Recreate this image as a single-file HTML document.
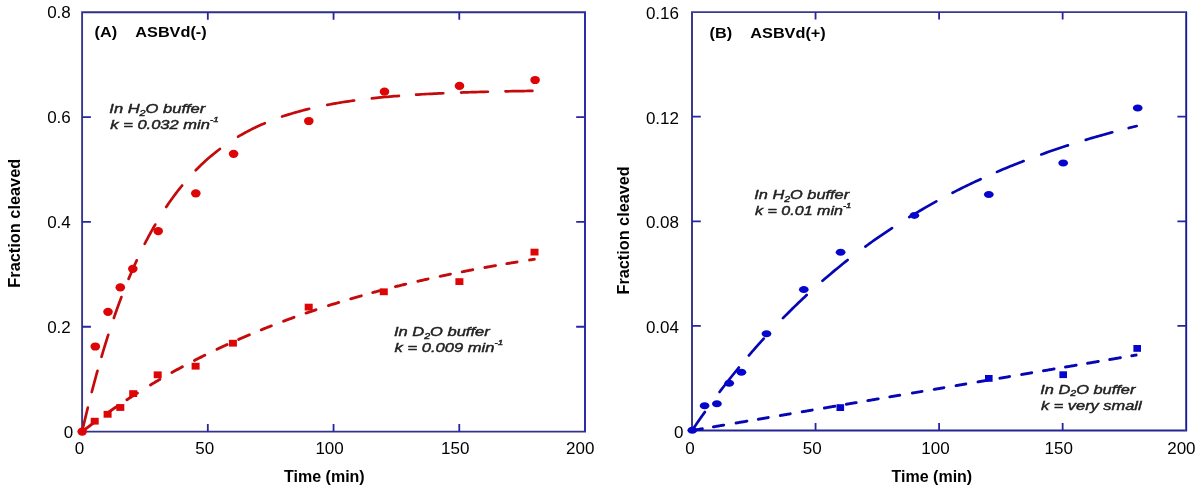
<!DOCTYPE html>
<html><head><meta charset="utf-8"><style>
html,body{margin:0;padding:0;background:#fff;width:1200px;height:489px;overflow:hidden;font-family:"Liberation Sans",sans-serif;}
svg{display:block;will-change:transform}
</style></head><body>
<svg width="1200" height="489" viewBox="0 0 1200 489"><path d="M82.1 11.25V432.55" fill="none" stroke="#36368e" stroke-width="1.9"/>
<path d="M83.05 12.2H584.05" fill="none" stroke="#2e2e88" stroke-width="1.9"/>
<path d="M83.05 431.6H584.05" fill="none" stroke="#33338c" stroke-width="1.9"/>
<path d="M585.0 11.25V432.55" fill="none" stroke="#2222a6" stroke-width="1.9"/>
<path d="M207.82 12.2V19.70M333.55 12.2V19.70M459.27 12.2V19.70" stroke="#2626a0" stroke-width="1.8" fill="none"/>
<path d="M207.82 431.6V424.10M333.55 431.6V424.10M459.27 431.6V424.10" stroke="#2626a0" stroke-width="1.8" fill="none"/>
<path d="M82.1 326.75H90.90M82.1 221.90H90.90M82.1 117.05H90.90" stroke="#2626a0" stroke-width="1.8" fill="none"/>
<path d="M585.0 326.75H576.20M585.0 221.90H576.20M585.0 117.05H576.20" stroke="#2626a0" stroke-width="1.8" fill="none"/>
<path d="M692.0 11.15V431.45" fill="none" stroke="#30308e" stroke-width="1.9"/>
<path d="M692.95 12.1H1185.25" fill="none" stroke="#3a3a8c" stroke-width="1.9"/>
<path d="M692.95 430.5H1185.25" fill="none" stroke="#242494" stroke-width="1.9"/>
<path d="M1186.2 11.15V431.45" fill="none" stroke="#1a1a94" stroke-width="1.9"/>
<path d="M815.55 12.1V19.60M939.10 12.1V19.60M1062.65 12.1V19.60" stroke="#2626a0" stroke-width="1.8" fill="none"/>
<path d="M815.55 430.5V423.00M939.10 430.5V423.00M1062.65 430.5V423.00" stroke="#2626a0" stroke-width="1.8" fill="none"/>
<path d="M692.0 325.90H700.80M692.0 221.30H700.80M692.0 116.70H700.80" stroke="#2626a0" stroke-width="1.8" fill="none"/>
<path d="M1186.2 325.90H1177.40M1186.2 221.30H1177.40M1186.2 116.70H1177.40" stroke="#2626a0" stroke-width="1.8" fill="none"/>
<path d="M82.65 429.23 L82.98 427.79 L83.36 426.17 L83.73 424.56 L84.11 422.96 L84.49 421.37 L84.87 419.78 L85.24 418.20 L85.62 416.62 L86.00 415.06 L86.37 413.50 L86.75 411.95 L87.13 410.41 L87.51 408.87 L87.84 407.54M91.78 392.00 L92.16 390.53 L92.66 388.61 L93.16 386.71 L93.67 384.81 L94.17 382.93 L94.67 381.06 L95.18 379.20 L95.68 377.36 L96.18 375.52 L96.68 373.70 L97.19 371.89 L97.50 370.76M101.51 356.79 L101.96 355.25 L102.47 353.55 L102.97 351.87 L103.47 350.20 L103.98 348.54 L104.48 346.89 L104.98 345.25 L105.48 343.62 L105.99 342.00 L106.49 340.39 L106.99 338.79 L107.50 337.20 L108.00 335.62 L108.26 334.80M113.86 317.96 L114.41 316.36 L115.04 314.55 L115.67 312.76 L116.30 310.99 L116.93 309.22 L117.55 307.48 L118.18 305.74 L118.81 304.02 L119.44 302.31 L120.07 300.62 L120.70 298.94 L121.33 297.27 L121.41 297.05M128.62 278.88 L129.25 277.38 L129.88 275.88 L130.50 274.40 L131.13 272.93 L131.76 271.47 L132.39 270.02 L133.02 268.59 L133.65 267.16 L134.28 265.75 L134.90 264.35 L135.53 262.96 L136.16 261.58 L136.74 260.32M144.70 243.89 L145.47 242.39 L146.35 240.70 L147.23 239.01 L148.11 237.35 L148.99 235.71 L149.87 234.08 L150.75 232.48 L151.63 230.89 L152.51 229.32 L153.39 227.76 L154.27 226.23 L155.15 224.71 L155.24 224.54M166.21 206.98 L167.47 205.13 L168.72 203.30 L169.98 201.49 L171.24 199.72 L172.50 197.98 L173.75 196.26 L175.01 194.57 L176.27 192.91 L177.53 191.27 L178.78 189.66 L180.04 188.07 L181.30 186.51 L182.10 185.53M195.77 170.25 L197.77 168.22 L199.78 166.24 L201.79 164.31 L203.80 162.42 L205.81 160.59 L207.82 158.80 L209.84 157.06 L211.85 155.36 L213.86 153.70 L215.87 152.08 L217.88 150.51 L219.89 148.97 L219.92 148.95M238.14 136.71 L240.26 135.46 L242.40 134.23 L244.54 133.04 L246.67 131.88 L248.81 130.75 L250.95 129.65 L253.09 128.58 L255.22 127.54 L257.36 126.53 L259.50 125.54 L261.64 124.58 L263.77 123.65 L264.79 123.22M282.14 116.59 L284.39 115.83 L286.65 115.10 L288.92 114.38 L291.18 113.68 L293.44 113.00 L295.71 112.34 L297.97 111.70 L300.23 111.08 L302.50 110.48 L304.76 109.89 L307.02 109.32 L309.13 108.80M327.28 104.88 L329.40 104.48 L331.54 104.08 L333.68 103.70 L335.81 103.33 L337.95 102.96 L340.09 102.61 L342.23 102.27 L344.36 101.93 L346.50 101.61 L348.64 101.29 L350.77 100.98 L352.91 100.68 L354.11 100.51M371.89 98.34 L374.03 98.11 L376.30 97.88 L378.56 97.65 L380.82 97.42 L383.09 97.21 L385.35 97.00 L387.61 96.79 L389.87 96.59 L392.14 96.40 L394.40 96.21 L396.66 96.03 L398.90 95.85M416.10 94.66 L418.29 94.53 L420.55 94.39 L422.81 94.26 L425.08 94.14 L427.34 94.01 L429.60 93.89 L431.87 93.78 L434.13 93.66 L436.39 93.55 L438.66 93.45 L440.92 93.34 L443.18 93.24 L443.30 93.24M461.10 92.54 L463.17 92.47 L465.31 92.39 L467.45 92.32 L469.58 92.26 L471.72 92.19 L473.86 92.13 L476.00 92.06 L478.13 92.00 L480.27 91.94 L482.41 91.88 L484.55 91.83 L486.68 91.77 L487.90 91.74M505.50 91.35 L507.68 91.31 L509.94 91.27 L512.21 91.22 L514.47 91.18 L516.73 91.14 L518.99 91.10 L521.26 91.07 L523.52 91.03 L525.78 91.00 L528.05 90.96 L530.31 90.93 L532.40 90.90" fill="none" stroke="#c40a0a" stroke-width="2.7" stroke-linecap="round" stroke-linejoin="round"/>
<path d="M83.37 430.62 L84.24 429.96 L85.12 429.29 L86.00 428.62 L86.88 427.96 L87.76 427.29 L88.64 426.63 L89.52 425.97 L90.40 425.31 L91.28 424.65 L92.16 424.00 L93.04 423.35 L93.81 422.77M106.70 413.48 L107.50 412.92 L108.38 412.31 L109.26 411.69 L110.14 411.08 L111.02 410.47 L111.90 409.86 L112.78 409.25 L113.66 408.64 L114.54 408.04 L115.42 407.44 L116.30 406.84 L117.18 406.24 L118.06 405.64 L118.39 405.42M126.92 399.74 L127.74 399.21 L128.62 398.63 L129.50 398.06 L130.38 397.49 L131.26 396.92 L132.14 396.35 L133.02 395.79 L133.90 395.23 L134.78 394.66 L135.66 394.10 L136.54 393.55 L137.37 393.02M150.54 384.90 L151.25 384.47 L152.00 384.02 L152.76 383.57 L153.51 383.12 L154.27 382.67 L155.02 382.22 L155.77 381.78 L156.53 381.33 L157.28 380.89 L158.04 380.45 L158.79 380.00 L159.55 379.56 L159.85 379.39M171.96 372.48 L172.75 372.04 L173.63 371.56 L174.51 371.07 L175.39 370.58 L176.27 370.10 L177.15 369.62 L178.03 369.14 L178.91 368.66 L179.79 368.18 L180.67 367.70 L181.55 367.23 L182.33 366.81M194.48 360.42 L195.25 360.02 L196.13 359.57 L197.01 359.12 L197.89 358.67 L198.77 358.22 L199.65 357.78 L200.53 357.34 L201.41 356.89 L202.29 356.45 L203.17 356.01 L204.05 355.57 L204.81 355.20M216.99 349.29 L217.63 348.98 L218.39 348.63 L219.14 348.27 L219.89 347.92 L220.65 347.56 L221.40 347.21 L222.16 346.86 L222.91 346.51 L223.67 346.16 L224.42 345.81 L225.18 345.46 L225.93 345.11 L226.68 344.77 L227.00 344.62M238.71 339.37 L239.51 339.02 L240.39 338.63 L241.27 338.25 L242.15 337.87 L243.03 337.49 L243.91 337.11 L244.79 336.73 L245.67 336.35 L246.55 335.97 L247.43 335.60 L248.31 335.22 L249.19 334.85 L249.29 334.81M261.32 329.83 L262.01 329.55 L262.77 329.24 L263.52 328.94 L264.28 328.64 L265.03 328.34 L265.78 328.03 L266.54 327.73 L267.29 327.43 L268.05 327.14 L268.80 326.84 L269.56 326.54 L270.31 326.24 L271.06 325.95 L271.28 325.87M283.63 321.14 L284.39 320.86 L285.27 320.53 L286.15 320.20 L287.03 319.88 L287.91 319.55 L288.79 319.23 L289.67 318.91 L290.55 318.59 L291.43 318.27 L292.31 317.95 L293.19 317.63 L293.96 317.35M306.04 313.09 L306.77 312.84 L307.52 312.58 L308.28 312.32 L309.03 312.06 L309.79 311.80 L310.54 311.55 L311.30 311.29 L312.05 311.04 L312.81 310.78 L313.56 310.53 L314.31 310.28 L315.07 310.02 L315.82 309.77 L315.96 309.73M328.45 305.66 L329.15 305.43 L329.90 305.19 L330.66 304.96 L331.41 304.72 L332.17 304.48 L332.92 304.24 L333.68 304.01 L334.43 303.77 L335.18 303.54 L335.94 303.30 L336.69 303.07 L337.45 302.84 L338.20 302.60 L338.65 302.47M350.76 298.83 L351.53 298.60 L352.41 298.34 L353.29 298.09 L354.17 297.83 L355.05 297.57 L355.93 297.32 L356.81 297.07 L357.69 296.81 L358.57 296.56 L359.45 296.31 L360.33 296.06 L361.21 295.81 L361.24 295.80M372.76 292.60 L373.40 292.43 L374.16 292.22 L374.91 292.02 L375.67 291.82 L376.42 291.61 L377.18 291.41 L377.93 291.21 L378.69 291.01 L379.44 290.81 L380.19 290.61 L380.95 290.41 L381.70 290.21 L381.94 290.15M395.47 286.68 L396.29 286.47 L397.17 286.25 L398.05 286.03 L398.93 285.81 L399.81 285.60 L400.69 285.38 L401.57 285.16 L402.45 284.95 L403.33 284.73 L404.21 284.52 L405.09 284.31 L405.73 284.15M417.87 281.28 L418.67 281.10 L419.55 280.89 L420.43 280.69 L421.31 280.49 L422.19 280.29 L423.07 280.09 L423.95 279.89 L424.83 279.69 L425.71 279.49 L426.59 279.30 L427.47 279.10 L428.13 278.95M440.18 276.32 L440.92 276.16 L441.67 276.00 L442.43 275.84 L443.18 275.68 L443.94 275.52 L444.69 275.37 L445.45 275.21 L446.20 275.05 L446.95 274.89 L447.71 274.73 L448.46 274.58 L449.22 274.42 L449.97 274.27 L450.42 274.17M462.18 271.80 L463.05 271.63 L463.93 271.46 L464.81 271.29 L465.69 271.11 L466.57 270.94 L467.45 270.77 L468.33 270.60 L469.21 270.43 L470.09 270.26 L470.97 270.10 L471.85 269.93 L472.72 269.76M484.88 267.50 L485.68 267.35 L486.56 267.20 L487.44 267.04 L488.32 266.88 L489.20 266.72 L490.08 266.56 L490.96 266.41 L491.84 266.25 L492.72 266.09 L493.60 265.94 L494.48 265.78 L495.36 265.63 L495.52 265.60M506.88 263.65 L507.68 263.52 L508.56 263.37 L509.44 263.22 L510.32 263.07 L511.20 262.93 L512.08 262.78 L512.96 262.64 L513.84 262.49 L514.72 262.35 L515.60 262.21 L516.48 262.06 L517.11 261.96M529.59 259.98 L529.93 259.93 L530.31 259.87 L530.69 259.81 L531.06 259.75 L531.44 259.69 L531.82 259.64 L532.20 259.58 L532.57 259.52 L532.95 259.46 L533.33 259.41 L533.70 259.35 L534.08 259.29 L534.31 259.25" fill="none" stroke="#c40a0a" stroke-width="2.9" stroke-linecap="round" stroke-linejoin="round"/>
<path d="M692.52 429.74 L693.48 428.32 L694.47 426.87 L695.46 425.43 L696.45 423.99 L697.44 422.56 L698.42 421.14 L699.41 419.72 L700.40 418.31 L701.39 416.90 L702.38 415.50 L703.37 414.10 L704.36 412.71 L704.86 412.00M719.56 392.00 L721.16 389.90 L722.76 387.80 L724.37 385.71 L725.98 383.64 L727.58 381.58 L729.19 379.53 L730.79 377.50 L732.40 375.48 L734.01 373.47 L735.61 371.48 L737.22 369.50 L738.80 367.55M748.91 355.45 L750.07 354.10 L751.30 352.66 L752.54 351.23 L753.77 349.81 L755.01 348.39 L756.25 346.98 L757.48 345.58 L758.72 344.18 L759.95 342.79 L761.19 341.41 L762.42 340.04 L763.66 338.67 L763.76 338.56M782.97 318.15 L784.91 316.17 L786.89 314.18 L788.86 312.20 L790.84 310.24 L792.82 308.29 L794.79 306.35 L796.77 304.44 L798.75 302.53 L800.72 300.65 L802.70 298.78 L804.68 296.92 L806.65 295.08 L806.69 295.04M822.53 280.80 L824.57 279.04 L826.67 277.23 L828.77 275.44 L830.87 273.66 L832.97 271.90 L835.07 270.16 L837.17 268.43 L839.27 266.71 L841.37 265.01 L843.47 263.32 L845.57 261.65 L847.63 260.02M865.39 246.55 L867.56 244.97 L869.79 243.36 L872.01 241.77 L874.24 240.19 L876.46 238.63 L878.68 237.08 L880.91 235.54 L883.13 234.02 L885.36 232.51 L887.58 231.02 L889.80 229.54 L891.98 228.10M909.24 217.15 L911.42 215.81 L913.65 214.47 L915.87 213.13 L918.10 211.81 L920.32 210.50 L922.54 209.21 L924.77 207.92 L926.99 206.65 L929.22 205.38 L931.44 204.13 L933.66 202.89 L935.89 201.66 L936.34 201.42M952.58 192.78 L954.91 191.59 L957.26 190.40 L959.61 189.22 L961.96 188.05 L964.30 186.89 L966.65 185.75 L969.00 184.61 L971.35 183.49 L973.69 182.38 L976.04 181.27 L978.39 180.18 L980.60 179.16M997.01 171.87 L999.15 170.96 L1001.37 170.01 L1003.59 169.08 L1005.82 168.15 L1008.04 167.23 L1010.26 166.33 L1012.49 165.42 L1014.71 164.53 L1016.94 163.64 L1019.16 162.77 L1021.38 161.90 L1023.57 161.05M1041.34 154.44 L1043.50 153.66 L1045.72 152.87 L1047.95 152.09 L1050.17 151.32 L1052.40 150.55 L1054.62 149.79 L1056.84 149.04 L1059.07 148.29 L1061.29 147.55 L1063.51 146.82 L1065.74 146.09 L1067.95 145.38M1085.75 139.84 L1087.85 139.21 L1090.08 138.55 L1092.30 137.90 L1094.53 137.25 L1096.75 136.61 L1098.97 135.98 L1101.20 135.35 L1103.42 134.72 L1105.65 134.10 L1107.87 133.49 L1110.09 132.88 L1112.24 132.30M1128.67 128.02 L1129.24 127.87 L1129.86 127.72 L1130.48 127.56 L1131.10 127.41 L1131.71 127.26 L1132.33 127.10 L1132.95 126.95 L1133.57 126.80 L1134.19 126.64 L1134.80 126.49 L1135.42 126.34 L1136.04 126.19 L1136.63 126.04" fill="none" stroke="#0606b4" stroke-width="2.7" stroke-linecap="round" stroke-linejoin="round"/>
<path d="M691.98 430.50 L692.74 430.37 L693.61 430.23 L694.47 430.08 L695.34 429.93 L696.20 429.79 L697.07 429.64 L697.93 429.49 L698.80 429.35 L699.66 429.20 L700.52 429.05 L701.39 428.90 L702.25 428.76 L702.32 428.75M713.38 426.87 L714.24 426.72 L715.10 426.57 L715.97 426.43 L716.83 426.28 L717.70 426.13 L718.56 425.99 L719.43 425.84 L720.29 425.69 L721.16 425.55 L722.02 425.40 L722.89 425.25 L723.72 425.11M736.08 423.01 L736.85 422.88 L737.71 422.73 L738.58 422.59 L739.44 422.44 L740.31 422.29 L741.17 422.14 L742.04 422.00 L742.90 421.85 L743.77 421.70 L744.63 421.56 L745.50 421.41 L746.36 421.26 L746.92 421.17M758.38 419.22 L759.09 419.10 L759.83 418.98 L760.57 418.85 L761.31 418.72 L762.05 418.60 L762.79 418.47 L763.54 418.35 L764.28 418.22 L765.02 418.09 L765.76 417.97 L766.50 417.84 L767.24 417.72 L767.98 417.59 L768.22 417.55M780.38 415.48 L781.08 415.36 L781.82 415.24 L782.56 415.11 L783.30 414.99 L784.04 414.86 L784.79 414.73 L785.53 414.61 L786.27 414.48 L787.01 414.36 L787.75 414.23 L788.49 414.10 L789.23 413.98 L789.98 413.85 L790.22 413.81M802.18 411.78 L802.95 411.65 L803.81 411.50 L804.68 411.35 L805.54 411.21 L806.41 411.06 L807.27 410.91 L808.14 410.77 L809.00 410.62 L809.87 410.47 L810.73 410.33 L811.60 410.18 L812.22 410.07M824.38 408.01 L825.19 407.87 L826.05 407.72 L826.92 407.58 L827.78 407.43 L828.65 407.28 L829.51 407.14 L830.38 406.99 L831.24 406.84 L832.11 406.69 L832.97 406.55 L833.84 406.40 L834.70 406.25 L834.92 406.22M846.38 404.27 L847.06 404.15 L847.80 404.03 L848.54 403.90 L849.28 403.78 L850.02 403.65 L850.76 403.52 L851.50 403.40 L852.24 403.27 L852.99 403.15 L853.73 403.02 L854.47 402.89 L855.21 402.77 L855.95 402.64 L856.22 402.60M867.78 400.63 L868.55 400.50 L869.42 400.35 L870.28 400.21 L871.15 400.06 L872.01 399.91 L872.88 399.77 L873.74 399.62 L874.61 399.47 L875.47 399.33 L876.34 399.18 L877.20 399.03 L878.07 398.89 L878.22 398.86M889.78 396.89 L890.42 396.79 L891.16 396.66 L891.90 396.53 L892.65 396.41 L893.39 396.28 L894.13 396.16 L894.87 396.03 L895.61 395.90 L896.35 395.78 L897.09 395.65 L897.83 395.53 L898.58 395.40 L899.32 395.27 L899.72 395.21M912.38 393.05 L913.03 392.94 L913.77 392.82 L914.51 392.69 L915.25 392.57 L916.00 392.44 L916.74 392.31 L917.48 392.19 L918.22 392.06 L918.96 391.94 L919.70 391.81 L920.44 391.68 L921.19 391.56 L921.93 391.43 L922.02 391.42M934.18 389.35 L934.90 389.23 L935.64 389.10 L936.38 388.98 L937.12 388.85 L937.86 388.72 L938.61 388.60 L939.35 388.47 L940.09 388.35 L940.83 388.22 L941.57 388.09 L942.31 387.97 L943.05 387.84 L943.79 387.72 L943.92 387.70M956.08 385.63 L956.77 385.51 L957.51 385.39 L958.25 385.26 L958.99 385.13 L959.73 385.01 L960.47 384.88 L961.22 384.76 L961.96 384.63 L962.70 384.51 L963.44 384.38 L964.18 384.25 L964.92 384.13 L965.66 384.00 L965.82 383.98M977.98 381.91 L978.64 381.80 L979.38 381.67 L980.12 381.55 L980.86 381.42 L981.60 381.29 L982.34 381.17 L983.08 381.04 L983.83 380.92 L984.57 380.79 L985.31 380.66 L986.05 380.54 L986.79 380.41 L987.53 380.29 L987.72 380.25M999.88 378.19 L1000.50 378.08 L1001.25 377.96 L1001.99 377.83 L1002.73 377.70 L1003.47 377.58 L1004.21 377.45 L1004.95 377.33 L1005.69 377.20 L1006.43 377.07 L1007.18 376.95 L1007.92 376.82 L1008.66 376.70 L1009.40 376.57 L1009.52 376.55M1021.68 374.48 L1022.37 374.37 L1023.11 374.24 L1023.86 374.11 L1024.60 373.99 L1025.34 373.86 L1026.08 373.74 L1026.82 373.61 L1027.56 373.48 L1028.30 373.36 L1029.04 373.23 L1029.79 373.11 L1030.53 372.98 L1031.27 372.85 L1031.72 372.78M1043.48 370.78 L1044.24 370.65 L1045.11 370.50 L1045.97 370.36 L1046.84 370.21 L1047.70 370.06 L1048.57 369.92 L1049.43 369.77 L1050.30 369.62 L1051.16 369.47 L1052.02 369.33 L1052.89 369.18 L1053.75 369.03 L1054.12 368.97M1065.48 367.04 L1066.23 366.91 L1067.10 366.77 L1067.96 366.62 L1068.83 366.47 L1069.69 366.33 L1070.56 366.18 L1071.42 366.03 L1072.29 365.88 L1073.15 365.74 L1074.02 365.59 L1074.88 365.44 L1075.75 365.30 L1076.22 365.22M1087.58 363.29 L1088.35 363.16 L1089.21 363.01 L1090.08 362.86 L1090.94 362.71 L1091.81 362.57 L1092.67 362.42 L1093.54 362.27 L1094.40 362.13 L1095.27 361.98 L1096.13 361.83 L1097.00 361.69 L1097.86 361.54 L1098.32 361.46M1109.68 359.53 L1110.46 359.40 L1111.33 359.25 L1112.19 359.10 L1113.06 358.96 L1113.92 358.81 L1114.79 358.66 L1115.65 358.52 L1116.52 358.37 L1117.38 358.22 L1118.25 358.08 L1119.11 357.93 L1119.98 357.78 L1120.42 357.71M1131.78 355.78 L1132.09 355.72 L1132.46 355.66 L1132.83 355.60 L1133.20 355.54 L1133.57 355.47 L1133.94 355.41 L1134.31 355.35 L1134.68 355.28 L1135.05 355.22 L1135.42 355.16 L1135.79 355.09 L1136.12 355.04" fill="none" stroke="#0606b4" stroke-width="2.9" stroke-linecap="round" stroke-linejoin="round"/>
<rect x="90.70" y="417.80" width="8" height="6.8" fill="#dd0505"/>
<rect x="103.60" y="410.90" width="8" height="6.8" fill="#dd0505"/>
<rect x="116.30" y="404.10" width="8" height="6.8" fill="#dd0505"/>
<rect x="129.20" y="390.20" width="8" height="6.8" fill="#dd0505"/>
<rect x="153.70" y="371.40" width="8" height="6.8" fill="#dd0505"/>
<rect x="191.60" y="362.80" width="8" height="6.8" fill="#dd0505"/>
<rect x="228.90" y="339.80" width="8" height="6.8" fill="#dd0505"/>
<rect x="304.70" y="303.70" width="8" height="6.8" fill="#dd0505"/>
<rect x="379.80" y="288.40" width="8" height="6.8" fill="#dd0505"/>
<rect x="455.40" y="278.20" width="8" height="6.8" fill="#dd0505"/>
<rect x="530.50" y="248.70" width="8" height="6.8" fill="#dd0505"/>
<ellipse cx="82.2" cy="431.6" rx="4.8" ry="4.1" fill="#dd0505"/>
<ellipse cx="95.3" cy="346.5" rx="4.8" ry="4.1" fill="#dd0505"/>
<ellipse cx="108" cy="311.8" rx="4.8" ry="4.1" fill="#dd0505"/>
<ellipse cx="120.3" cy="287.4" rx="4.8" ry="4.1" fill="#dd0505"/>
<ellipse cx="132.8" cy="268.8" rx="4.8" ry="4.1" fill="#dd0505"/>
<ellipse cx="158.2" cy="231.1" rx="4.8" ry="4.1" fill="#dd0505"/>
<ellipse cx="195.8" cy="193.3" rx="4.8" ry="4.1" fill="#dd0505"/>
<ellipse cx="233.6" cy="153.8" rx="4.8" ry="4.1" fill="#dd0505"/>
<ellipse cx="308.8" cy="121" rx="4.8" ry="4.1" fill="#dd0505"/>
<ellipse cx="384.5" cy="91.7" rx="4.8" ry="4.1" fill="#dd0505"/>
<ellipse cx="459.5" cy="85.9" rx="4.8" ry="4.1" fill="#dd0505"/>
<ellipse cx="535.1" cy="80" rx="4.8" ry="4.1" fill="#dd0505"/>
<rect x="836.50" y="404.20" width="7.6" height="6.8" fill="#0505cc"/>
<rect x="985.00" y="375.00" width="7.6" height="6.8" fill="#0505cc"/>
<rect x="1059.40" y="371.30" width="7.6" height="6.8" fill="#0505cc"/>
<rect x="1133.40" y="345.00" width="7.6" height="6.8" fill="#0505cc"/>
<ellipse cx="692.3" cy="430.3" rx="4.9" ry="3.5" fill="#0505cc"/>
<ellipse cx="704.6" cy="405.8" rx="4.9" ry="3.5" fill="#0505cc"/>
<ellipse cx="716.9" cy="403.8" rx="4.9" ry="3.5" fill="#0505cc"/>
<ellipse cx="729.2" cy="383.2" rx="4.9" ry="3.5" fill="#0505cc"/>
<ellipse cx="741.4" cy="372.3" rx="4.9" ry="3.5" fill="#0505cc"/>
<ellipse cx="766.5" cy="333.7" rx="4.9" ry="3.5" fill="#0505cc"/>
<ellipse cx="803.8" cy="289.6" rx="4.9" ry="3.5" fill="#0505cc"/>
<ellipse cx="840.6" cy="252.3" rx="4.9" ry="3.5" fill="#0505cc"/>
<ellipse cx="914.4" cy="215.4" rx="4.9" ry="3.5" fill="#0505cc"/>
<ellipse cx="988.8" cy="194.5" rx="4.9" ry="3.5" fill="#0505cc"/>
<ellipse cx="1063.2" cy="163" rx="4.9" ry="3.5" fill="#0505cc"/>
<ellipse cx="1137.7" cy="108" rx="4.9" ry="3.5" fill="#0505cc"/>
<text x="70.8" y="18.29999999999999" font-family="'Liberation Sans', sans-serif" font-size="17" font-weight="normal" font-style="normal" text-anchor="end" fill="#000" >0.8</text>
<text x="70.8" y="123.15" font-family="'Liberation Sans', sans-serif" font-size="17" font-weight="normal" font-style="normal" text-anchor="end" fill="#000" >0.6</text>
<text x="70.8" y="228.0" font-family="'Liberation Sans', sans-serif" font-size="17" font-weight="normal" font-style="normal" text-anchor="end" fill="#000" >0.4</text>
<text x="70.8" y="332.85" font-family="'Liberation Sans', sans-serif" font-size="17" font-weight="normal" font-style="normal" text-anchor="end" fill="#000" >0.2</text>
<text x="68.55" y="437.70000000000005" font-family="'Liberation Sans', sans-serif" font-size="17" font-weight="normal" font-style="normal" text-anchor="middle" fill="#000" >0</text>
<text x="79.6" y="454.2" font-family="'Liberation Sans', sans-serif" font-size="17" font-weight="normal" font-style="normal" text-anchor="middle" fill="#000" >0</text>
<text x="204.7" y="454.2" font-family="'Liberation Sans', sans-serif" font-size="17" font-weight="normal" font-style="normal" text-anchor="middle" fill="#000" >50</text>
<text x="329.6" y="454.2" font-family="'Liberation Sans', sans-serif" font-size="17" font-weight="normal" font-style="normal" text-anchor="middle" fill="#000" >100</text>
<text x="455.3" y="454.2" font-family="'Liberation Sans', sans-serif" font-size="17" font-weight="normal" font-style="normal" text-anchor="middle" fill="#000" >150</text>
<text x="580.2" y="454.2" font-family="'Liberation Sans', sans-serif" font-size="17" font-weight="normal" font-style="normal" text-anchor="middle" fill="#000" >200</text>
<text x="679.0" y="19.199999999999967" font-family="'Liberation Sans', sans-serif" font-size="17" font-weight="normal" font-style="normal" text-anchor="end" fill="#000" >0.16</text>
<text x="679.0" y="123.79999999999998" font-family="'Liberation Sans', sans-serif" font-size="17" font-weight="normal" font-style="normal" text-anchor="end" fill="#000" >0.12</text>
<text x="679.0" y="228.39999999999998" font-family="'Liberation Sans', sans-serif" font-size="17" font-weight="normal" font-style="normal" text-anchor="end" fill="#000" >0.08</text>
<text x="679.0" y="333.0" font-family="'Liberation Sans', sans-serif" font-size="17" font-weight="normal" font-style="normal" text-anchor="end" fill="#000" >0.04</text>
<text x="678.8" y="437.7" font-family="'Liberation Sans', sans-serif" font-size="17" font-weight="normal" font-style="normal" text-anchor="middle" fill="#000" >0</text>
<text x="690" y="453.6" font-family="'Liberation Sans', sans-serif" font-size="17" font-weight="normal" font-style="normal" text-anchor="middle" fill="#000" >0</text>
<text x="812.2" y="453.6" font-family="'Liberation Sans', sans-serif" font-size="17" font-weight="normal" font-style="normal" text-anchor="middle" fill="#000" >50</text>
<text x="935.5" y="453.6" font-family="'Liberation Sans', sans-serif" font-size="17" font-weight="normal" font-style="normal" text-anchor="middle" fill="#000" >100</text>
<text x="1058.7" y="453.6" font-family="'Liberation Sans', sans-serif" font-size="17" font-weight="normal" font-style="normal" text-anchor="middle" fill="#000" >150</text>
<text x="1181.4" y="453.6" font-family="'Liberation Sans', sans-serif" font-size="17" font-weight="normal" font-style="normal" text-anchor="middle" fill="#000" >200</text>
<text x="0" y="0" font-family="'Liberation Sans', sans-serif" font-size="15.5" font-weight="bold" font-style="normal" text-anchor="start" fill="#000" transform="translate(94.6,36.6) scale(1.05,1)">(A)</text>
<text x="0" y="0" font-family="'Liberation Sans', sans-serif" font-size="15.5" font-weight="bold" font-style="normal" text-anchor="start" fill="#000" transform="translate(135.3,36.6) scale(1.05,1)">ASBVd(-)</text>
<text x="0" y="0" font-family="'Liberation Sans', sans-serif" font-size="15.5" font-weight="bold" font-style="normal" text-anchor="start" fill="#000" transform="translate(709.6,38.3) scale(1.05,1)">(B)</text>
<text x="0" y="0" font-family="'Liberation Sans', sans-serif" font-size="15.5" font-weight="bold" font-style="normal" text-anchor="start" fill="#000" transform="translate(750.3,38.3) scale(1.05,1)">ASBVd(+)</text>
<text x="324.4" y="481.8" font-family="'Liberation Sans', sans-serif" font-size="16" font-weight="bold" font-style="normal" text-anchor="middle" fill="#000" >Time (min)</text>
<text x="931.9" y="481.8" font-family="'Liberation Sans', sans-serif" font-size="16" font-weight="bold" font-style="normal" text-anchor="middle" fill="#000" >Time (min)</text>
<text x="0" y="0" font-family="'Liberation Sans', sans-serif" font-size="16.35" font-weight="bold" font-style="normal" text-anchor="middle" fill="#000" transform="translate(19.7,223.2) rotate(-90)">Fraction cleaved</text>
<text x="0" y="0" font-family="'Liberation Sans', sans-serif" font-size="16.25" font-weight="bold" font-style="normal" text-anchor="middle" fill="#000" transform="translate(629.1,230.4) rotate(-90)">Fraction cleaved</text>
<text transform="translate(109.3,113.1) scale(1.2162309368191722,1)" x="0" y="0" font-family="'Liberation Sans', sans-serif" font-size="13.6" font-style="italic" fill="#222222" stroke="#222222" stroke-width="0.45">In H<tspan font-size="8.8" dy="2.6">2</tspan><tspan dy="-2.6">O</tspan> buffer</text>
<text transform="translate(110.3,129.0) scale(1.216272378516624,1)" x="0" y="0" font-family="'Liberation Sans', sans-serif" font-size="13.6" font-style="italic" fill="#222222" stroke="#222222" stroke-width="0.45">k = 0.032 min<tspan font-size="8" dy="-7">-1</tspan></text>
<text transform="translate(393.90000000000003,336.0) scale(1.2136891793754538,1)" x="0" y="0" font-family="'Liberation Sans', sans-serif" font-size="13.6" font-style="italic" fill="#222222" stroke="#222222" stroke-width="0.45">In D<tspan font-size="8.8" dy="2.6">2</tspan><tspan dy="-2.6">O</tspan> buffer</text>
<text transform="translate(394.5,352.3) scale(1.2196291560102301,1)" x="0" y="0" font-family="'Liberation Sans', sans-serif" font-size="13.6" font-style="italic" fill="#222222" stroke="#222222" stroke-width="0.45">k = 0.009 min<tspan font-size="8" dy="-7">-1</tspan></text>
<text transform="translate(754.3,199.1) scale(1.200980392156863,1)" x="0" y="0" font-family="'Liberation Sans', sans-serif" font-size="13.6" font-style="italic" fill="#222222" stroke="#222222" stroke-width="0.45">In H<tspan font-size="8.8" dy="2.6">2</tspan><tspan dy="-2.6">O</tspan> buffer</text>
<text transform="translate(755,215.0) scale(1.180795847750865,1)" x="0" y="0" font-family="'Liberation Sans', sans-serif" font-size="13.6" font-style="italic" fill="#222222" stroke="#222222" stroke-width="0.45">k = 0.01 min<tspan font-size="8" dy="-7">-1</tspan></text>
<text transform="translate(1040.2,393.7) scale(1.2060639070442993,1)" x="0" y="0" font-family="'Liberation Sans', sans-serif" font-size="13.6" font-style="italic" fill="#222222" stroke="#222222" stroke-width="0.45">In D<tspan font-size="8.8" dy="2.6">2</tspan><tspan dy="-2.6">O</tspan> buffer</text>
<text transform="translate(1040.9,409.7) scale(1.207763337893297,1)" x="0" y="0" font-family="'Liberation Sans', sans-serif" font-size="13.6" font-style="italic" fill="#222222" stroke="#222222" stroke-width="0.45">k = very small</text></svg>
</body></html>
